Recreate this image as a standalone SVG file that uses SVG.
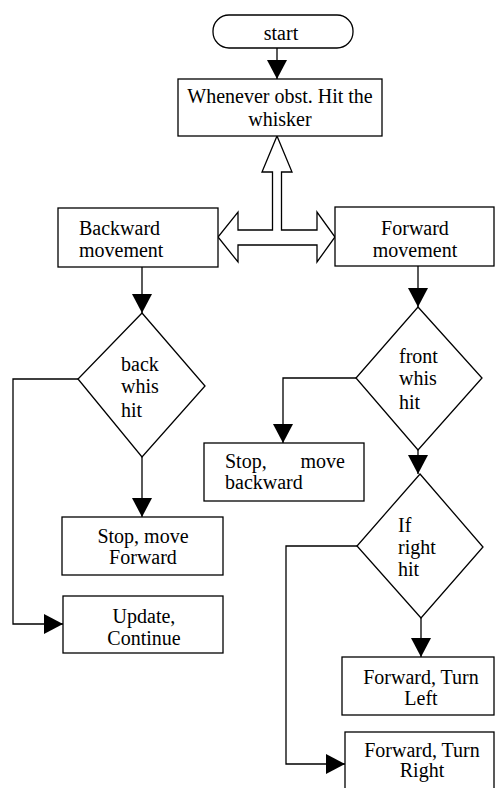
<svg xmlns="http://www.w3.org/2000/svg" width="495" height="788" viewBox="0 0 495 788">
<style>
.box{fill:#fff;stroke:#000;stroke-width:1.3}
.ln{fill:none;stroke:#000;stroke-width:1.3}
text{font-family:"Liberation Serif","Times New Roman",serif;font-size:20px;fill:#000}
.c{text-anchor:middle}
</style>
<defs>
<marker id="ah" markerUnits="userSpaceOnUse" markerWidth="19" markerHeight="20" viewBox="0 0 19 20" refX="19" refY="10" orient="auto">
<path d="M0,0 L19,10 L0,20 z" fill="#000"/>
</marker>
</defs>
<g id="connectors">
<path class="ln" d="M277,48 V79" marker-end="url(#ah)"/>
<path class="box" d="M277,136 L292,172 L281.5,172 L281.5,230 L317,230 L317,212 L335,237 L317,262 L317,245 L238,245 L238,262 L218,237 L238,212 L238,230 L272.5,230 L272.5,172 L262,172 Z"/>
<path class="ln" d="M142,267 V313" marker-end="url(#ah)"/>
<path class="ln" d="M142,457 V517" marker-end="url(#ah)"/>
<path class="ln" d="M78,379 H13 V624 H63" marker-end="url(#ah)"/>
<path class="ln" d="M418,266 V307" marker-end="url(#ah)"/>
<path class="ln" d="M356,378 H283 V443" marker-end="url(#ah)"/>
<path class="ln" d="M418,450 V474" marker-end="url(#ah)"/>
<path class="ln" d="M357,546 H286 V764 H345" marker-end="url(#ah)"/>
<path class="ln" d="M421,618 V657" marker-end="url(#ah)"/>
</g>
<g id="start">
<rect class="box" x="213" y="15" width="140" height="33" rx="16"/>
<text class="c" x="281" y="40">start</text>
</g>
<g id="whenever">
<rect class="box" x="178" y="79" width="204" height="57"/>
<text class="c" x="280" y="103">Whenever obst. Hit the</text>
<text class="c" x="280" y="126">whisker</text>
</g>
<g id="backward">
<rect class="box" x="58" y="208" width="160" height="59"/>
<text x="79" y="235">Backward</text>
<text x="79" y="257">movement</text>
</g>
<g id="forward">
<rect class="box" x="335" y="207" width="159" height="59"/>
<text class="c" x="415" y="235">Forward</text>
<text class="c" x="415" y="257">movement</text>
</g>
<g id="backwhis">
<polygon class="box" points="142,313 205,386 142,457 78,379"/>
<text x="121" y="371">back</text>
<text x="121" y="393">whis</text>
<text x="121" y="417">hit</text>
</g>
<g id="frontwhis">
<polygon class="box" points="418,307 482,378 418,450 356,378"/>
<text x="399" y="363">front</text>
<text x="399" y="385">whis</text>
<text x="399" y="409">hit</text>
</g>
<g id="stopbackward">
<rect class="box" x="204" y="443" width="160" height="58"/>
<text x="225" y="468">Stop,</text>
<text x="345" y="468" text-anchor="end">move</text>
<text x="225" y="489">backward</text>
</g>
<g id="stopforward">
<rect class="box" x="62" y="517" width="161" height="58"/>
<text class="c" x="143" y="543">Stop, move</text>
<text class="c" x="143" y="564">Forward</text>
</g>
<g id="ifright">
<polygon class="box" points="420,474 483,547 421,618 357,546"/>
<text x="398" y="532">If</text>
<text x="398" y="554">right</text>
<text x="398" y="576">hit</text>
</g>
<g id="update">
<rect class="box" x="63" y="596" width="160" height="57"/>
<text class="c" x="144" y="623">Update,</text>
<text class="c" x="144" y="645">Continue</text>
</g>
<g id="turnleft">
<rect class="box" x="342" y="657" width="152" height="58"/>
<text class="c" x="421" y="684">Forward, Turn</text>
<text class="c" x="421" y="705">Left</text>
</g>
<g id="turnright">
<rect class="box" x="345" y="732" width="149" height="70"/>
<text class="c" x="422" y="757">Forward, Turn</text>
<text class="c" x="422" y="777">Right</text>
</g>
</svg>
